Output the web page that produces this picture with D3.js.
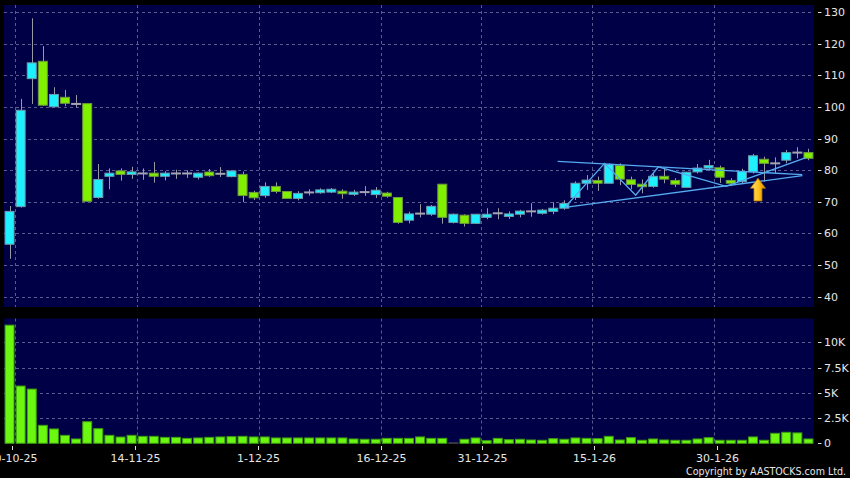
<!DOCTYPE html>
<html><head><meta charset="utf-8">
<script src="https://cdn.jsdelivr.net/npm/d3@7"></script>
<style>
html,body{margin:0;padding:0;background:#000;}
svg{display:block;}
text{font-family:"DejaVu Sans",sans-serif;fill:#e6e6e6;}
</style></head>
<body><svg id="c" width="850" height="478"></svg>
<script>
// ---- data ----
const dates = ["30-10-25","31-10-25","3-11-25","4-11-25","5-11-25","6-11-25","7-11-25","10-11-25","11-11-25","12-11-25","13-11-25","14-11-25","17-11-25","18-11-25","19-11-25","20-11-25","21-11-25","24-11-25","25-11-25","26-11-25","27-11-25","28-11-25","1-12-25","2-12-25","3-12-25","4-12-25","5-12-25","8-12-25","9-12-25","10-12-25","11-12-25","12-12-25","15-12-25","16-12-25","17-12-25","18-12-25","19-12-25","22-12-25","23-12-25","24-12-25","29-12-25","30-12-25","31-12-25","2-1-26","5-1-26","6-1-26","7-1-26","8-1-26","9-1-26","12-1-26","13-1-26","14-1-26","15-1-26","16-1-26","19-1-26","20-1-26","21-1-26","22-1-26","23-1-26","26-1-26","27-1-26","28-1-26","29-1-26","30-1-26","2-2-26","3-2-26","4-2-26","5-2-26","6-2-26","9-2-26","10-2-26","11-2-26","12-2-26"];
const openP  = [56.6,68.5,109.0,114.5,100.1,103.1,101.0,101.1,71.4,78.1,79.8,78.7,79.0,79.1,78.1,79.0,79.0,77.8,79.45,78.9,78.0,78.7,73.0,72.0,74.9,73.3,71.1,73.0,72.9,73.1,73.4,72.4,73.1,72.3,72.8,71.4,64.2,66.3,66.1,75.6,63.5,65.8,63.2,65.1,66.4,65.4,66.1,67.0,66.4,67.0,68.0,71.4,75.9,76.8,75.9,81.5,77.0,75.6,74.9,78.1,76.8,74.6,79.5,80.7,80.8,76.8,76.4,79.5,83.5,82.2,83.2,85.6,85.6];
const highP  = [68.7,102.6,128.1,119.3,106.3,105.4,103.8,101.1,82.0,80.6,80.6,81.1,80.6,82.6,79.7,80.2,80.0,79.3,80.4,81.0,80.0,79.6,73.5,76.2,76.2,73.3,73.4,74.0,74.3,74.4,74.0,73.8,75.0,74.7,73.2,71.4,66.9,69.3,69.0,75.6,66.3,66.1,66.1,68.0,68.0,67.0,67.5,69.6,67.8,69.9,70.5,76.5,78.5,78.0,82.2,82.2,78.0,77.1,79.0,80.6,77.5,79.5,82.0,83.3,81.5,77.5,80.5,85.2,84.3,84.1,86.4,87.3,86.8];
const lowP   = [52.0,68.2,101.0,100.4,100.0,100.3,99.9,70.0,71.0,74.0,76.7,77.3,77.0,76.1,76.8,77.3,77.6,77.1,77.9,77.9,77.8,69.9,70.6,71.3,72.7,71.0,70.5,72.0,72.6,72.8,71.0,71.9,71.9,71.2,71.3,63.1,63.2,65.1,65.6,63.1,63.2,62.2,63.0,64.5,64.5,64.6,65.1,65.3,66.0,66.1,67.5,70.6,73.8,73.5,75.9,75.3,74.0,72.7,74.5,75.9,74.7,74.5,79.0,79.9,76.0,75.0,75.9,79.0,76.4,79.0,82.2,83.8,83.2];
const closeP = [67.0,99.0,114.0,100.6,104.0,101.2,101.0,70.2,77.1,79.1,78.7,79.5,79.0,78.1,79.1,79.0,79.0,79.1,78.3,78.9,79.8,72.0,71.3,74.9,73.3,71.1,72.7,73.0,73.8,74.0,72.6,73.1,73.1,73.7,71.8,63.5,66.2,66.3,68.6,65.1,66.1,63.2,66.1,66.1,66.4,66.2,67.1,67.0,67.4,68.0,69.5,75.9,76.9,75.9,81.9,77.2,75.5,74.8,78.1,77.2,75.6,79.4,80.7,81.5,77.8,75.9,79.6,84.6,82.2,82.2,85.6,85.6,83.8];
const volume = [11700,5670,5370,1780,1420,790,430,2140,1450,790,620,790,690,690,590,590,490,530,590,630,660,690,630,630,530,530,530,530,530,530,530,430,400,400,490,490,490,630,490,490,50,400,530,260,490,360,400,330,300,460,400,530,490,460,690,330,560,300,430,330,300,300,430,560,300,300,300,630,300,990,1090,1030,430];
const priceTicks = [40,50,60,70,80,90,100,110,120,130];
const volTicks = [0,2500,5000,7500,10000];
const volTickLabels = ["0","2.5K","5K","7.5K","10K"];
const dateTicks = ["30-10-25","14-11-25","1-12-25","16-12-25","31-12-25","15-1-26","30-1-26"];
// drawn annotations, in (bar index, price)
const trendUpper = [[49.4,82.84],[71.45,78.6]];
const trendLower = [[50.06,68.3],[71.45,78.3]];
const zigzag = [[50.06,68.3],[53.62,82.2],[56.43,72.1],[58.47,81.1],[64.57,74.9],[71.78,84.0]];
const arrowMark = {at:67.45, tip:77.5, base:70.3};
const copyright = "Copyright by AASTOCKS.com Ltd.";

// ---- layout ----
const svg = d3.select("#c");
const L = 4, R = 814;
const pTop = 5, pBot = 307, vTop = 318.5, vBot = 443.5;
const navy = "#000046";
const gridCol = "#5a5a90";

const idx = d3.range(dates.length);
const x = d3.scaleBand().domain(idx).range([L,R]).paddingInner(0.1).paddingOuter(0.05);
const xc = i => x(i) + x.bandwidth()/2;
const xf = d3.scaleLinear().domain([-0.5, dates.length-0.5]).range([L,R]); // fractional index
const xTick = d3.scaleLinear().domain([-0.688, 71.7]).range([L,R]);
const yP = d3.scaleLinear().domain([40,130]).range([296.7,12.3]);
const yV = d3.scaleLinear().domain([0,10000]).range([443.3,342.3]);

svg.append("rect").attr("x",L).attr("y",pTop).attr("width",R-L).attr("height",pBot-pTop).attr("fill",navy);
svg.append("rect").attr("x",L).attr("y",vTop).attr("width",R-L).attr("height",vBot-vTop).attr("fill",navy);

// grids
const g = svg.append("g").attr("stroke",gridCol).attr("stroke-width",1).attr("stroke-dasharray","3,3");
priceTicks.forEach(t=>{
  g.append("line").attr("x1",L).attr("x2",R).attr("y1",Math.round(yP(t))+0.5).attr("y2",Math.round(yP(t))+0.5);
});
volTicks.filter(t=>t>0).forEach(t=>{
  g.append("line").attr("x1",L).attr("x2",R).attr("y1",Math.round(yV(t))+0.5).attr("y2",Math.round(yV(t))+0.5);
});
const tickIdx = dateTicks.map(d=>dates.indexOf(d));
tickIdx.forEach(i=>{
  const gx = Math.round(x(i) + x.step() - (x.step()-x.bandwidth())/2) + 0.5;
  g.append("line").attr("x1",gx).attr("x2",gx).attr("y1",pTop).attr("y2",pBot);
  g.append("line").attr("x1",gx).attr("x2",gx).attr("y1",vTop).attr("y2",vBot);
});

// candles
const cg = svg.append("g");
idx.forEach(i=>{
  const o=openP[i], c=closeP[i], h=highP[i], l=lowP[i];
  const cx = Math.round(xc(i))+0.5;
  cg.append("line").attr("x1",cx).attr("x2",cx).attr("y1",yP(h)).attr("y2",yP(l))
    .attr("stroke","#9a9aa6").attr("stroke-width",1);
  if (o===c) {
    cg.append("rect").attr("x",x(i)).attr("y",yP(o)-1).attr("width",x.bandwidth()).attr("height",2)
      .attr("fill","#a4a4b0");
  } else {
    const up = c>o;
    cg.append("rect").attr("x",x(i)+0.5).attr("y",yP(Math.max(o,c))).attr("width",x.bandwidth()-1)
      .attr("height",Math.max(1,yP(Math.min(o,c))-yP(Math.max(o,c))))
      .attr("fill", up ? "#1ff0ff" : "#80f000")
      .attr("stroke", up ? "#6e9aa8" : "#6f9a3c").attr("stroke-width",1);
  }
});

// trendlines
const line = d3.line().x(d=>xf(d[0])).y(d=>yP(d[1]));
const tg = svg.append("g").attr("fill","none").attr("stroke","#55aaf0").attr("stroke-width",1.3);
tg.append("path").attr("d",line(trendUpper));
tg.append("path").attr("d",line(trendLower));
tg.append("path").attr("d",line(zigzag));

// arrow
{
  const ax = xf(arrowMark.at), ty = yP(arrowMark.tip), by = yP(arrowMark.base);
  const hw = 7.5, sw = 4, hh = 10;
  const p = `M${ax},${ty} L${ax+hw},${ty+hh} L${ax+sw},${ty+hh} L${ax+sw},${by} L${ax-sw},${by} L${ax-sw},${ty+hh} L${ax-hw},${ty+hh} Z`;
  const grad = svg.append("defs").append("linearGradient").attr("id","ag").attr("x1",0).attr("x2",1).attr("y1",0).attr("y2",0);
  grad.append("stop").attr("offset","0%").attr("stop-color","#ffe27a");
  grad.append("stop").attr("offset","55%").attr("stop-color","#ffc21a");
  grad.append("stop").attr("offset","100%").attr("stop-color","#d98c00");
  svg.append("path").attr("d",p).attr("fill","url(#ag)").attr("stroke","#b87800").attr("stroke-width",0.8);
}

// volume bars
const vg = svg.append("g");
idx.forEach(i=>{
  vg.append("rect").attr("x",x(i)+0.5).attr("y",yV(volume[i])).attr("width",x.bandwidth()-1)
    .attr("height",Math.max(0.5,yV(0)-yV(volume[i])))
    .attr("fill", volume[i] < 100 ? "#3a4a3a" : "#6cf710").attr("stroke", volume[i] < 100 ? "#444" : "#3c9a10").attr("stroke-width",1);
});

// y axes (right)
const ax = svg.append("g");
priceTicks.forEach(t=>{
  const y = Math.round(yP(t))+0.5;
  ax.append("line").attr("x1",818).attr("x2",821.5).attr("y1",y).attr("y2",y).attr("stroke","#dcdcdc");
  ax.append("text").attr("x",824).attr("y",y).attr("dy","0.36em").attr("font-size",11).text(t);
});
volTicks.forEach((t,k)=>{
  const y = Math.round(yV(t))+0.5;
  ax.append("line").attr("x1",818).attr("x2",821.5).attr("y1",y).attr("y2",y).attr("stroke","#dcdcdc");
  ax.append("text").attr("x",824).attr("y",y).attr("dy","0.36em").attr("font-size",11).text(volTickLabels[k]);
});
// x axis
tickIdx.forEach((i,k)=>{
  const tx = Math.round(xTick(i))+0.5;
  ax.append("line").attr("x1",tx).attr("x2",tx).attr("y1",446).attr("y2",450).attr("stroke","#dcdcdc");
  ax.append("text").attr("x",tx).attr("y",461.5).attr("text-anchor","middle").attr("font-size",11).text(dateTicks[k]);
});
svg.append("text").attr("x",846).attr("y",475).attr("text-anchor","end").attr("font-size",11)
  .attr("textLength",160).attr("lengthAdjust","spacingAndGlyphs").text(copyright);
</script></body></html>
